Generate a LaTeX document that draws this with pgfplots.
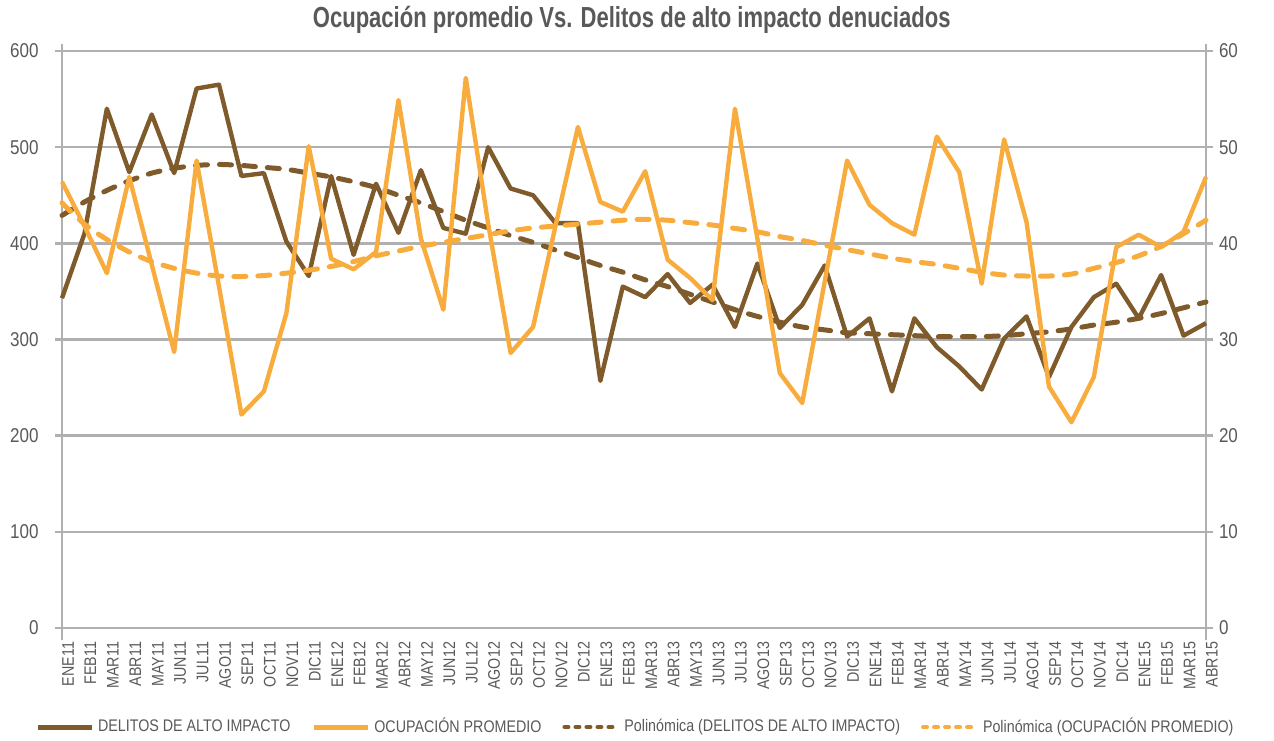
\documentclass[border=0pt]{standalone}
\usepackage{pgfplots}
\pgfplotsset{compat=1.18}
\usepackage{pgfplotstable}
\usepackage{fontspec}
\setmainfont{Liberation Sans}[FakeStretch=0.85]
\newfontfamily\titlefont{Liberation Sans}[FakeStretch=0.76]

\definecolor{brownc}{HTML}{7F5A2B}
\definecolor{orangec}{HTML}{F9AC3E}
\definecolor{gridc}{HTML}{B0B0B0}
\definecolor{textc}{HTML}{595959}

% i, delitos (left axis), ocupacion (right axis), trend lines
\pgfplotstableread{
i  del ocu  deltr ocutr
0  343 46.4 429 44.2
1  410 41.8 443 42.0
2  540 36.9 455 40.4
3  474 46.9 465 39.1
4  534 37.8 473 38.1
5  473 28.7 478 37.4
6  561 48.6 481 36.9
7  565 35.5 482 36.6
8  470 22.2 481 36.55
9  473 24.6 479 36.65
10 402 32.7 477 36.9
11 366 50.1 473 37.2
12 470 38.4 469 37.6
13 388 37.3 464 38.1
14 462 39.1 458 38.7
15 411 54.9 450 39.2
16 476 40.5 442 39.7
17 416 33.1 433 40.1
18 410 57.2 424 40.5
19 500 42.0 416 40.9
20 457 28.6 408 41.3
21 450 31.3 401 41.6
22 421 41.8 393 41.8
23 421 52.1 385 42.0
24 257 44.3 377 42.2
25 355 43.3 370 42.4
26 344 47.5 362 42.5
27 368 38.3 355 42.4
28 338 36.4 347 42.15
29 357 34.1 339 41.9
30 313 54.0 331 41.55
31 379 40.5 324 41.2
32 312 26.5 318 40.7
33 336 23.4 313 40.3
34 377 36.0 310 39.8
35 303 48.6 307 39.35
36 322 44.0 306 38.9
37 246 42.1 305 38.45
38 322 40.9 304 38.1
39 292 51.1 303 37.8
40 272 47.4 303 37.4
41 248 35.8 303 37.0
42 301 50.8 304 36.7
43 324 42.2 306 36.6
44 261 25.1 308 36.6
45 313 21.4 311 36.8
46 344 26.1 315 37.4
47 358 39.6 318 38.0
48 322 40.9 322 38.7
49 367 39.6 327 39.7
50 304 41.2 333 41.0
51 317 46.9 339 42.4
}\data

\pgfplotsset{
  solidbrown/.style={brownc, line width=2.2bp, line join=round},
  solidorange/.style={orangec, line width=2.2bp, line join=round},
  dashbrown/.style={brownc, line width=2.5bp, line cap=round, dash pattern=on 6bp off 6bp},
  dashorange/.style={orangec, line width=2.5bp, line cap=round, dash pattern=on 6bp off 6bp},
  common/.style={
    scale only axis, width=572bp, height=288.5bp,
    at={(0,0)}, anchor=south west,
    xmin=0, xmax=51, clip=false,
    axis line style={draw=none},
    tick align=outside, major tick length=3.5bp,
    tick style={gridc, line width=1.2bp},
    /pgf/number format/assume math mode=true,
    yticklabel style={font=\fontsize{10bp}{12bp}\selectfont, text=textc},
  },
}

\begin{document}
\begin{tikzpicture}
\path[use as bounding box] (-31bp,-56.5bp) rectangle (606bp,314bp);

\begin{axis}[common,
  ymin=0, ymax=600, ytick={0,100,...,600}, ytick pos=left,
  yticklabel style={xshift=-4.7bp},
  ymajorgrids, grid style={gridc, line width=1.2bp},
  xtick={0,...,51}, x tick style={draw=none},
  xticklabels={ENE11,FEB11,MAR11,ABR11,MAY11,JUN11,JUL11,AGO11,SEP11,OCT11,NOV11,DIC11,
    ENE12,FEB12,MAR12,ABR12,MAY12,JUN12,JUL12,AGO12,SEP12,OCT12,NOV12,DIC12,
    ENE13,FEB13,MAR13,ABR13,MAY13,JUN13,JUL13,AGO13,SEP13,OCT13,NOV13,DIC13,
    ENE14,FEB14,MAR14,ABR14,MAY14,JUN14,JUL14,AGO14,SEP14,OCT14,NOV14,DIC14,
    ENE15,FEB15,MAR15,ABR15},
  xticklabel style={rotate=90, anchor=east, yshift=-3bp,
    font=\fontsize{8.4bp}{10bp}\selectfont, text=textc},
]
\draw[gridc, line width=1.2bp] ([yshift=-6bp]rel axis cs:0,0) -- ([yshift=3.5bp]rel axis cs:0,1);
\draw[gridc, line width=1.2bp] ([yshift=-6bp]rel axis cs:1,0) -- ([yshift=3.5bp]rel axis cs:1,1);
\addplot[solidbrown] table[x=i, y=del] {\data};
\addplot[dashbrown, smooth] table[x=i, y=deltr] {\data};
\node[anchor=base, text=textc, font=\titlefont\bfseries\fontsize{14.5bp}{16bp}\selectfont]
  at ([yshift=11.5bp]rel axis cs:0.498,1) {Ocupación promedio Vs. Delitos de alto impacto denuciados};
\end{axis}

\begin{axis}[common,
  ymin=0, ymax=60, ytick={0,10,...,60}, ytick pos=right, yticklabel pos=right,
  yticklabel style={xshift=-0.5bp},
  xtick=\empty,
  legend columns=4,
  legend image code/.code={\draw[#1] (0bp,0bp) -- (27bp,0bp);},
  legend style={at={(0.502,-0.1716)}, anchor=center, draw=none, fill=none,
    font=\fontsize{8.4bp}{10bp}\selectfont, text=textc,
    /tikz/every even column/.append style={column sep=8.5bp}},
]
\addlegendimage{solidbrown, line width=2.5bp}
\addlegendentry{DELITOS DE ALTO IMPACTO}
\addlegendimage{solidorange, line width=2.5bp}
\addlegendentry{OCUPACIÓN PROMEDIO}
\addlegendimage{dashbrown, line width=2bp, dash pattern=on 2bp off 3.5bp}
\addlegendentry{Polinómica (DELITOS DE ALTO IMPACTO)}
\addlegendimage{dashorange, line width=2bp, dash pattern=on 2bp off 3.5bp}
\addlegendentry{Polinómica (OCUPACIÓN PROMEDIO)}
\addplot[dashorange, smooth, forget plot] table[x=i, y=ocutr] {\data};
\addplot[solidorange, forget plot] table[x=i, y=ocu] {\data};
\end{axis}
\end{tikzpicture}
\end{document}
